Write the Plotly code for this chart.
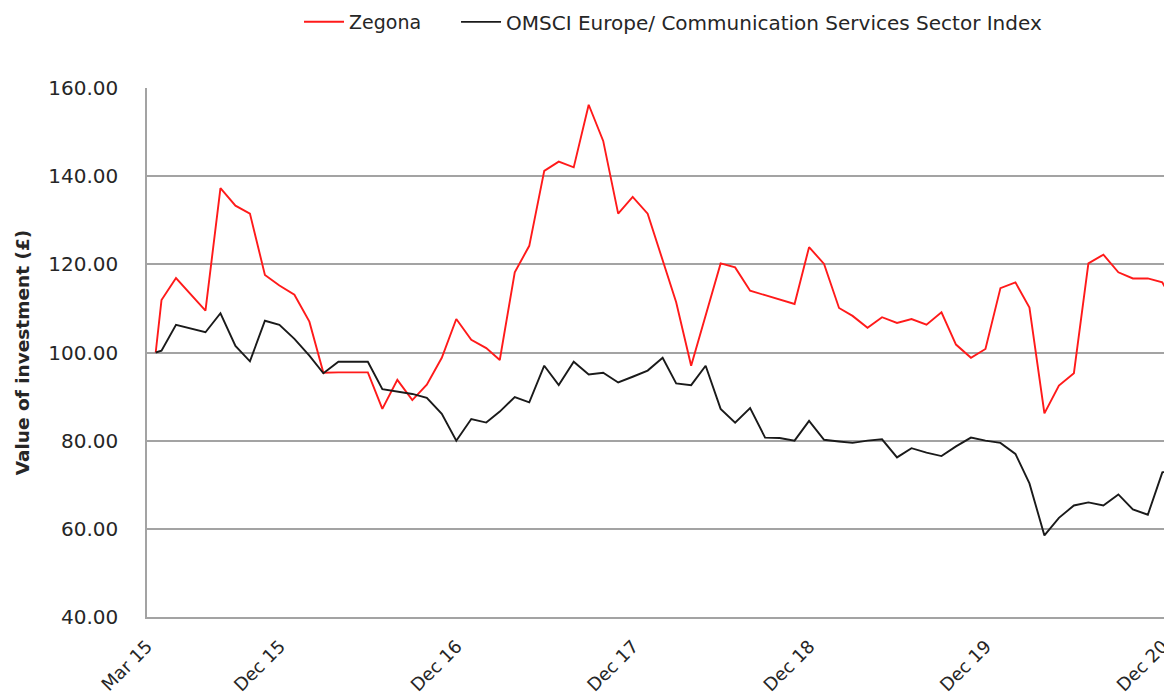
import plotly.graph_objects as go

dates = ["2015-03-19",
         "2015-03-31", "2015-04-30", "2015-05-31", "2015-06-30", "2015-07-31", "2015-08-31",
         "2015-09-30", "2015-10-31", "2015-11-30", "2015-12-31",
         "2016-01-31", "2016-02-29", "2016-03-31", "2016-04-30", "2016-05-31", "2016-06-30",
         "2016-07-31", "2016-08-31", "2016-09-30", "2016-10-31", "2016-11-30", "2016-12-31",
         "2017-01-31", "2017-02-28", "2017-03-31", "2017-04-30", "2017-05-31", "2017-06-30",
         "2017-07-31", "2017-08-31", "2017-09-30", "2017-10-31", "2017-11-30", "2017-12-31",
         "2018-01-31", "2018-02-28", "2018-03-31", "2018-04-30", "2018-05-31", "2018-06-30",
         "2018-07-31", "2018-08-31", "2018-09-30", "2018-10-31", "2018-11-30", "2018-12-31",
         "2019-01-31", "2019-02-28", "2019-03-31", "2019-04-30", "2019-05-31", "2019-06-30",
         "2019-07-31", "2019-08-31", "2019-09-30", "2019-10-31", "2019-11-30", "2019-12-31",
         "2020-01-31", "2020-02-29", "2020-03-31", "2020-04-30", "2020-05-31", "2020-06-30",
         "2020-07-31", "2020-08-31", "2020-09-30", "2020-10-31", "2020-11-30", "2020-12-31"]

zegona = [100.0,
          111.9, 116.9, 113.2, 109.5, 137.3, 133.3, 131.5, 117.6, 115.2, 113.1,
          107.0, 95.4, 95.5, 95.5, 95.5, 87.2, 93.8, 89.2, 92.7, 98.8, 107.6, 102.9,
          101.0, 98.3, 118.2, 124.2, 141.2, 143.3, 142.0, 156.2, 148.0, 131.5, 135.3, 131.5,
          121.0, 111.4, 97.0, 108.7, 120.2, 119.3, 114.0, 113.0, 112.0, 111.0, 123.9, 120.1,
          110.1, 108.3, 105.6, 108.0, 106.7, 107.6, 106.3, 109.1, 101.8, 98.8, 100.8, 114.6,
          115.9, 110.2, 86.2, 92.5, 95.3, 120.2, 122.2, 118.2, 116.8, 116.8, 115.9, 110.0]

msci = [100.0,
        100.4, 106.3, 105.4, 104.6, 108.9, 101.5, 98.0, 107.2, 106.3, 103.1,
        99.3, 95.3, 97.9, 97.9, 97.9, 91.7, 91.2, 90.6, 89.7, 86.1, 80.0, 84.9,
        84.1, 86.6, 89.9, 88.7, 97.0, 92.6, 97.9, 95.0, 95.4, 93.2, 94.5, 95.9,
        98.8, 93.0, 92.6, 97.0, 87.2, 84.1, 87.4, 80.7, 80.6, 80.0, 84.5, 80.2,
        79.8, 79.5, 80.0, 80.3, 76.2, 78.3, 77.3, 76.5, 78.7, 80.7, 80.0, 79.5,
        77.0, 70.3, 58.5, 62.5, 65.3, 66.0, 65.3, 67.8, 64.4, 63.2, 72.8, 73.5]

tick_dates = ["2015-03-01", "2015-12-01", "2016-12-01", "2017-12-01",
              "2018-12-01", "2019-12-01", "2020-12-01"]
tick_labels = ["Mar 15", "Dec 15", "Dec 16", "Dec 17", "Dec 18", "Dec 19", "Dec 20"]

FONT = "DejaVu Sans"
TXT = "#262626"
GRID = "#a3a3a3"

fig = go.Figure()
fig.add_trace(go.Scatter(x=dates, y=zegona, mode="lines", name="Zegona",
                         line=dict(color="#ff1a1a", width=1.9), legend="legend"))
fig.add_trace(go.Scatter(x=dates, y=msci, mode="lines",
                         name="OMSCI Europe/ Communication Services Sector Index",
                         line=dict(color="#1a1a1a", width=1.9), legend="legend2"))

leg_common = dict(orientation="h", xanchor="left", y=1.125, yanchor="middle",
                  itemwidth=40, bgcolor="rgba(0,0,0,0)")

fig.update_layout(
    width=1164, height=692, autosize=False,
    margin=dict(l=139, r=0, t=80, b=83, autoexpand=False),
    paper_bgcolor="white", plot_bgcolor="white",
    font=dict(family=FONT, size=18, color=TXT),
    showlegend=True,
    legend=dict(x=0.1483, font=dict(family=FONT, size=19, color=TXT), **leg_common),
    legend2=dict(x=0.3015, font=dict(family=FONT, size=20, color=TXT), **leg_common),
)
fig.update_xaxes(type="date", range=["2015-03-01", "2020-12-20"],
                 tickmode="array", tickvals=tick_dates, ticktext=tick_labels,
                 tickangle=-45, tickfont=dict(family=FONT, size=18, color=TXT),
                 ticklabeloverflow="allow", automargin=False, ticklabelstandoff=10,
                 showgrid=False, showline=True, linecolor=GRID, linewidth=1.5,
                 ticks="", zeroline=False)
fig.update_yaxes(range=[40, 160], dtick=20, tick0=40, tickformat=".2f",
                 tickfont=dict(family=FONT, size=20, color=TXT), automargin=False,
                 showgrid=True, gridcolor=GRID, gridwidth=1.5,
                 showline=True, linecolor=GRID, linewidth=1.5,
                 ticks="", ticklabelstandoff=23, zeroline=False,
                 title=dict(text="<b>Value of investment (£)</b>",
                            font=dict(family=FONT, size=18.5, color=TXT), standoff=14))

fig.write_html("out.html")
